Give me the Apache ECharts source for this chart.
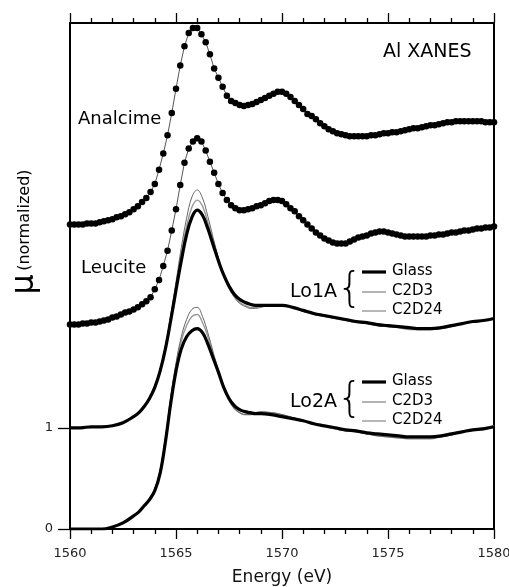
<!DOCTYPE html>
<html><head><meta charset="utf-8">
<script src="https://cdn.jsdelivr.net/npm/echarts@6/dist/echarts.min.js"></script>
<style>html,body{margin:0;padding:0;background:#fff}#c{width:509px;height:587px}</style>
</head><body><div id="c"></div>
<script>
const energyFine = [1560,1560.2,1560.4,1560.6,1560.8,1561,1561.2,1561.4,1561.6,1561.8,
1562,1562.2,1562.4,1562.6,1562.8,1563,1563.2,1563.4,1563.6,1563.8,
1564,1564.2,1564.4,1564.6,1564.8,1565,1565.2,1565.4,1565.6,1565.8,
1566,1566.2,1566.4,1566.6,1566.8,1567,1567.2,1567.4,1567.6,1567.8,
1568,1568.2,1568.4,1568.6,1568.8,1569,1569.2,1569.4,1569.6,1569.8,
1570,1570.2,1570.4,1570.6,1570.8,1571,1571.2,1571.4,1571.6,1571.8,
1572,1572.2,1572.4,1572.6,1572.8,1573,1573.2,1573.4,1573.6,1573.8,
1574,1574.2,1574.4,1574.6,1574.8,1575,1575.2,1575.4,1575.6,1575.8,
1576,1576.2,1576.4,1576.6,1576.8,1577,1577.2,1577.4,1577.6,1577.8,
1578,1578.2,1578.4,1578.6,1578.8,1579,1579.2,1579.4,1579.6,1579.8,1580];

const analcime = [3.01,3.01,3.01,3.01,3.02,3.02,3.02,3.03,3.04,3.05,
3.06,3.08,3.09,3.11,3.13,3.16,3.19,3.23,3.27,3.33,
3.41,3.55,3.71,3.89,4.11,4.35,4.58,4.77,4.90,4.95,
4.95,4.89,4.81,4.69,4.55,4.46,4.37,4.28,4.23,4.21,
4.19,4.18,4.19,4.20,4.22,4.24,4.26,4.28,4.30,4.32,
4.32,4.30,4.27,4.23,4.19,4.15,4.10,4.08,4.05,4.01,
3.98,3.95,3.93,3.91,3.90,3.89,3.88,3.88,3.88,3.88,
3.88,3.89,3.89,3.90,3.91,3.91,3.92,3.92,3.93,3.94,
3.95,3.96,3.96,3.97,3.98,3.99,3.99,4.00,4.01,4.02,
4.02,4.03,4.03,4.03,4.03,4.03,4.03,4.03,4.02,4.02,4.02];

const leucite = [2.02,2.02,2.02,2.03,2.03,2.04,2.04,2.05,2.06,2.07,
2.09,2.10,2.12,2.14,2.15,2.17,2.19,2.22,2.25,2.29,
2.37,2.46,2.60,2.75,2.95,3.16,3.40,3.62,3.76,3.83,
3.86,3.83,3.74,3.63,3.52,3.41,3.32,3.25,3.20,3.17,
3.15,3.15,3.16,3.17,3.19,3.20,3.22,3.24,3.25,3.25,
3.24,3.21,3.17,3.14,3.09,3.05,3.01,2.97,2.93,2.90,
2.87,2.85,2.83,2.82,2.82,2.82,2.84,2.86,2.88,2.89,
2.90,2.92,2.93,2.94,2.94,2.93,2.92,2.91,2.90,2.89,
2.89,2.89,2.89,2.89,2.89,2.90,2.90,2.91,2.91,2.92,
2.93,2.93,2.94,2.95,2.95,2.96,2.97,2.97,2.98,2.98,2.99];

// sampling of the glass/crystallized spectra (finer through the edge)
const energyLine = [1560,1560.5,1561,1561.5,1562,1562.5,
1563,1563.25,1563.5,1563.75,1564,1564.25,1564.5,1564.75,1565,1565.25,1565.5,1565.75,
1566,1566.25,1566.5,1566.75,1567,1567.25,1567.5,1567.75,1568,1568.25,1568.5,1568.75,1569,
1569.5,1570,1570.5,1571,1571.5,1572,1572.5,1573,1573.5,1574,1574.5,
1575,1575.5,1576,1576.5,1577,1577.5,1578,1578.5,1579,1579.5,1580];

const lo1aGlass = [1.00,1.00,1.01,1.01,1.02,1.05,
1.11,1.15,1.21,1.29,1.40,1.56,1.78,2.06,2.36,2.65,2.91,3.08,
3.15,3.10,2.97,2.81,2.65,2.51,2.40,2.32,2.27,2.24,2.22,2.21,2.21,
2.21,2.21,2.19,2.16,2.13,2.11,2.09,2.07,2.05,2.04,2.02,
2.01,2.00,1.99,1.98,1.98,1.99,2.01,2.03,2.05,2.06,2.08];
const lo1aC2D3 = [1.00,1.00,1.01,1.01,1.02,1.05,
1.11,1.15,1.21,1.30,1.41,1.58,1.81,2.11,2.44,2.78,3.07,3.28,
3.35,3.27,3.09,2.88,2.68,2.51,2.38,2.29,2.23,2.20,2.18,2.18,2.19,
2.21,2.21,2.19,2.15,2.12,2.10,2.08,2.06,2.04,2.03,2.01,
2.00,1.99,1.98,1.97,1.97,1.98,2.00,2.03,2.05,2.06,2.08];
const lo1aC2D24 = [1.00,1.00,1.01,1.01,1.02,1.05,
1.11,1.15,1.21,1.30,1.41,1.57,1.80,2.09,2.41,2.72,2.99,3.18,
3.25,3.19,3.03,2.85,2.67,2.51,2.39,2.30,2.24,2.21,2.19,2.19,2.20,
2.21,2.21,2.19,2.15,2.12,2.10,2.08,2.06,2.04,2.03,2.01,
2.00,1.99,1.97,1.97,1.97,1.98,2.00,2.03,2.05,2.06,2.08];

const lo2aGlass = [0.00,0.00,0.00,0.00,0.02,0.06,
0.13,0.17,0.23,0.29,0.38,0.55,0.86,1.24,1.56,1.78,1.90,1.96,
1.98,1.94,1.83,1.69,1.55,1.40,1.29,1.22,1.18,1.16,1.15,1.14,1.14,
1.13,1.11,1.09,1.07,1.04,1.02,1.00,0.98,0.97,0.95,0.94,
0.93,0.92,0.91,0.91,0.91,0.92,0.94,0.96,0.98,0.99,1.01];
const lo2aC2D3 = [0.00,0.00,0.00,0.00,0.02,0.06,
0.13,0.17,0.23,0.30,0.40,0.58,0.90,1.30,1.64,1.90,2.07,2.17,
2.19,2.10,1.94,1.75,1.57,1.40,1.27,1.19,1.15,1.13,1.13,1.15,1.16,
1.15,1.13,1.10,1.07,1.04,1.01,0.99,0.97,0.96,0.94,0.92,
0.91,0.90,0.89,0.89,0.89,0.91,0.93,0.96,0.98,0.99,1.01];
const lo2aC2D24 = [0.00,0.00,0.00,0.00,0.02,0.06,
0.13,0.17,0.23,0.30,0.39,0.57,0.88,1.28,1.61,1.86,2.01,2.10,
2.12,2.04,1.90,1.73,1.56,1.40,1.27,1.19,1.15,1.13,1.13,1.14,1.15,
1.15,1.13,1.10,1.07,1.04,1.01,0.99,0.97,0.96,0.94,0.92,
0.91,0.90,0.90,0.90,0.90,0.91,0.93,0.96,0.98,1.00,1.02];

const xTicks = [1560,1565,1570,1575,1580];
const yTickLabels = [0,1];

const FONT = '"DejaVu Sans", Verdana, sans-serif';
const zip = (xs, ys) => xs.map((x, i) => [x, ys[i]]);

const lineSeries = (name, xs, ys, color, width) => ({
  name, type: 'line', data: zip(xs, ys), showSymbol: false, symbol: 'none',
  smooth: 0.4,
  lineStyle: { color, width }, silent: true, animation: false, z: 2
});
const dotSeries = (name, xs, ys) => ({
  name, type: 'line', data: zip(xs, ys), symbol: 'circle', symbolSize: 6.5, showSymbol: true,
  itemStyle: { color: '#000' }, lineStyle: { color: '#555', width: 1 },
  silent: true, animation: false, z: 4
});

const chart = echarts.init(document.getElementById('c'), null, { renderer: 'canvas' });

const legendBlock = (label, yc) => {
  const els = [];
  els.push({ type: 'text', left: 290, top: yc - 9, style: { text: label, font: '19px ' + FONT, fill: '#000' } });
  els.push({ type: 'text', left: 337, top: yc - 21, style: { text: '{', font: '300 40px "DejaVu Sans", sans-serif', fill: '#000' } });
  const rows = [['Glass', '#000', 3.2, -20], ['C2D3', '#666', 1, 0], ['C2D24', '#999', 1.4, 19]];
  rows.forEach(r => {
    els.push({ type: 'line', shape: { x1: 362, y1: yc + r[3], x2: 386, y2: yc + r[3] }, style: { stroke: r[1], lineWidth: r[2] } });
    els.push({ type: 'text', left: 392, top: yc + r[3] - 8, style: { text: r[0], font: '15px ' + FONT, fill: '#000' } });
  });
  return els;
};

chart.setOption({
  animation: false,
  grid: { left: 70, right: 15, top: 23, bottom: 58, show: true, borderColor: '#000', borderWidth: 2,
          containLabel: false, outerBoundsMode: 'none' },
  xAxis: [{
    type: 'value', position: 'bottom', min: 1560, max: 1580, interval: 5,
    axisLine: { show: true, onZero: false, lineStyle: { color: '#000', width: 2 } },
    axisTick: { show: true, inside: false, length: 10, lineStyle: { color: '#000', width: 1.3 } },
    minorTick: { show: true, splitNumber: 5, length: 5, lineStyle: { color: '#000', width: 1.3 } },
    axisLabel: { show: true, customValues: xTicks, formatter: v => String(v), fontSize: 13, color: '#222', margin: 18, fontFamily: FONT },
    splitLine: { show: false },
    name: 'Energy (eV)', nameLocation: 'middle', nameGap: 40,
    nameTextStyle: { fontSize: 17, color: '#111', fontFamily: FONT }
  }, {
    type: 'value', position: 'top', min: 1560, max: 1580, interval: 5,
    axisLine: { show: true, onZero: false, lineStyle: { color: '#000', width: 2 } },
    axisTick: { show: true, inside: false, length: 10, lineStyle: { color: '#000', width: 1.3 } },
    minorTick: { show: true, splitNumber: 5, length: 5, lineStyle: { color: '#000', width: 1.3 } },
    axisLabel: { show: false }, splitLine: { show: false }
  }],
  yAxis: [{
    type: 'value', min: 0, max: 5, interval: 1,
    axisLine: { show: true, onZero: false, lineStyle: { color: '#000', width: 2 } },
    axisTick: { show: true, customValues: yTickLabels, length: 12, lineStyle: { color: '#000', width: 1.3 } },
    axisLabel: { show: true, customValues: yTickLabels, formatter: v => String(v), fontSize: 13, color: '#222', margin: 17, fontFamily: FONT },
    splitLine: { show: false }
  }],
  graphic: [
    { type: 'text', left: 383, top: 43, style: { text: 'Al XANES', font: '19px ' + FONT, fill: '#000' } },
    { type: 'text', left: 78, top: 110, style: { text: 'Analcime', font: '18px ' + FONT, fill: '#000' } },
    { type: 'text', left: 81, top: 259, style: { text: 'Leucite', font: '18px ' + FONT, fill: '#000' } },
    { type: 'text', x: 25, y: 232, rotation: Math.PI / 2,
      style: { text: '{mu|μ} {n|(normalized)}', align: 'center', verticalAlign: 'middle',
        rich: { mu: { fontSize: 32, fontFamily: '"DejaVu Sans", sans-serif', fill: '#000' },
                n: { fontSize: 16, fontFamily: FONT, fill: '#000' } } } }
  ].concat(legendBlock('Lo1A', 292), legendBlock('Lo2A', 402)),
  series: [
    lineSeries('Lo2A C2D24', energyLine, lo2aC2D24, '#999', 1.4),
    lineSeries('Lo2A C2D3', energyLine, lo2aC2D3, '#666', 1),
    lineSeries('Lo2A Glass', energyLine, lo2aGlass, '#000', 3.2),
    lineSeries('Lo1A C2D24', energyLine, lo1aC2D24, '#999', 1.4),
    lineSeries('Lo1A C2D3', energyLine, lo1aC2D3, '#666', 1),
    lineSeries('Lo1A Glass', energyLine, lo1aGlass, '#000', 3.2),
    dotSeries('Leucite', energyFine, leucite),
    dotSeries('Analcime', energyFine, analcime)
  ]
});
</script></body></html>
